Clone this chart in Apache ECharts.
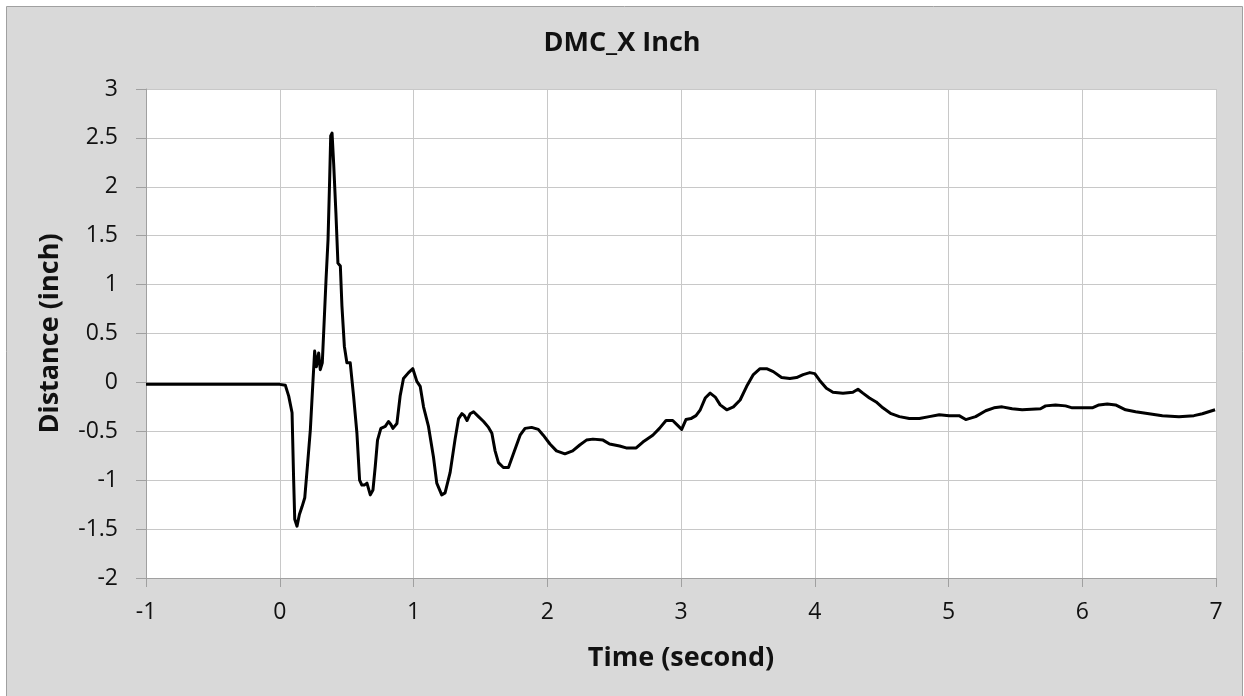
<!DOCTYPE html>
<html>
<head>
<meta charset="utf-8">
<script src="https://cdn.jsdelivr.net/npm/echarts@6/dist/echarts.min.js"></script>
<style>
html,body{margin:0;padding:0;background:#ffffff;}
#chart{width:1244px;height:696px;}
</style>
</head>
<body>
<div id="chart"></div>
<script>
const chartTitle = 'DMC_X Inch';
const xAxisTitle = 'Time (second)';
const yAxisTitle = 'Distance (inch)';

const timeValues = [
  -1, 0, 0.042, 0.067, 0.092, 0.104, 0.112, 0.129, 0.147, 0.167, 0.187, 0.209, 0.229, 0.249,
  0.261, 0.274, 0.291, 0.303, 0.318, 0.328, 0.346, 0.361, 0.373, 0.381, 0.391, 0.403, 0.420,
  0.435, 0.453, 0.465, 0.483, 0.502, 0.527, 0.552, 0.577, 0.597, 0.614, 0.632, 0.652, 0.677,
  0.697, 0.714, 0.731, 0.756, 0.789, 0.813, 0.831, 0.846, 0.876, 0.900, 0.925, 0.963, 0.995,
  1.025, 1.05, 1.075, 1.112, 1.149, 1.174, 1.211, 1.236, 1.274, 1.311, 1.337, 1.362, 1.380,
  1.40, 1.424, 1.449, 1.486, 1.524, 1.561, 1.586, 1.610, 1.635, 1.672, 1.71, 1.747, 1.797,
  1.834, 1.883, 1.933, 1.97, 2.02, 2.069, 2.132, 2.19, 2.243, 2.293, 2.342, 2.417, 2.466,
  2.541, 2.59, 2.665, 2.715, 2.789, 2.839, 2.888, 2.938, 2.975, 3.005, 3.037, 3.074, 3.112,
  3.144, 3.181, 3.218, 3.256, 3.293, 3.342, 3.392, 3.442, 3.491, 3.541, 3.591, 3.64, 3.69,
  3.752, 3.814, 3.864, 3.913, 3.963, 4.0, 4.037, 4.087, 4.136, 4.211, 4.285, 4.323, 4.36,
  4.409, 4.459, 4.509, 4.571, 4.633, 4.707, 4.782, 4.856, 4.931, 5.005, 5.079, 5.129, 5.203,
  5.278, 5.34, 5.401, 5.476, 5.551, 5.688, 5.726, 5.8, 5.875, 5.925, 6.0, 6.075, 6.125, 6.187,
  6.249, 6.324, 6.399, 6.499, 6.599, 6.723, 6.835, 6.898, 6.993
];
const distanceValues = [
  -0.02, -0.02, -0.03, -0.14, -0.31, -1.0, -1.40, -1.47, -1.35, -1.27, -1.18, -0.82, -0.48, 0.03,
  0.32, 0.16, 0.30, 0.13, 0.20, 0.50, 1.05, 1.46, 2.07, 2.52, 2.55, 2.24, 1.73,
  1.22, 1.19, 0.78, 0.37, 0.20, 0.20, -0.14, -0.52, -1.0, -1.05, -1.05, -1.03, -1.15,
  -1.10, -0.86, -0.59, -0.47, -0.45, -0.40, -0.43, -0.47, -0.42, -0.14, 0.04, 0.10, 0.14,
  0.01, -0.04, -0.25, -0.45, -0.76, -1.03, -1.15, -1.13, -0.92, -0.58, -0.37, -0.32, -0.34,
  -0.39, -0.32, -0.30, -0.35, -0.40, -0.46, -0.52, -0.70, -0.82, -0.87, -0.87, -0.73, -0.54,
  -0.47, -0.46, -0.48, -0.54, -0.63, -0.70, -0.73, -0.70, -0.64, -0.59, -0.58, -0.59, -0.63,
  -0.65, -0.67, -0.67, -0.61, -0.54, -0.47, -0.39, -0.39, -0.44, -0.48, -0.38, -0.37, -0.34,
  -0.28, -0.16, -0.11, -0.15, -0.23, -0.28, -0.25, -0.18, -0.04, 0.08, 0.14, 0.14, 0.11,
  0.05, 0.04, 0.05, 0.08, 0.10, 0.09, 0.02, -0.06, -0.10, -0.11, -0.10, -0.07, -0.11,
  -0.16, -0.20, -0.26, -0.32, -0.35, -0.37, -0.37, -0.35, -0.33, -0.34, -0.34, -0.38, -0.35,
  -0.29, -0.26, -0.25, -0.27, -0.28, -0.27, -0.24, -0.23, -0.24, -0.26, -0.26, -0.26, -0.23, -0.22,
  -0.23, -0.28, -0.30, -0.32, -0.34, -0.35, -0.34, -0.32, -0.28
];
const xMin = -1, xMax = 7, xStep = 1;
const yMin = -2, yMax = 3, yStep = 0.5;

const seriesData = timeValues.map((t, i) => [t, distanceValues[i]]);

const FONT = '"Open Sans", "Noto Sans", sans-serif';
const chart = echarts.init(document.getElementById('chart'), null, {renderer: 'canvas'});
chart.setOption({
  animation: false,
  backgroundColor: '#ffffff',
  graphic: {
    elements: [{
      type: 'rect',
      z: -100,
      silent: true,
      shape: {x: 6.5, y: 6.5, width: 1236, height: 700},
      style: {fill: '#d9d9d9', stroke: '#a0a0a0', lineWidth: 1}
    }]
  },
  title: {
    text: chartTitle,
    left: 'center',
    top: 25,
    textStyle: {fontFamily: FONT, fontSize: 27, fontWeight: 'bold', color: '#111'}
  },
  grid: {
    left: 146, right: 28, top: 89, bottom: 118,
    show: true, backgroundColor: '#ffffff', borderWidth: 0
  },
  xAxis: {
    type: 'value', min: xMin, max: xMax, interval: xStep,
    name: xAxisTitle, nameLocation: 'middle', nameGap: 67,
    nameTextStyle: {fontFamily: FONT, fontSize: 27, fontWeight: 'bold', color: '#111'},
    axisLine: {onZero: false, lineStyle: {color: '#a0a0a0', width: 1}},
    axisTick: {show: true, inside: false, length: 9, lineStyle: {color: '#a0a0a0'}},
    axisLabel: {fontFamily: FONT, fontSize: 23, color: '#111', margin: 23},
    splitLine: {show: true, lineStyle: {color: '#c8c8c8', width: 1}}
  },
  yAxis: {
    type: 'value', min: yMin, max: yMax, interval: yStep,
    name: yAxisTitle, nameLocation: 'middle', nameGap: 82, nameRotate: 90,
    nameTextStyle: {fontFamily: FONT, fontSize: 27, fontWeight: 'bold', color: '#111'},
    axisLine: {show: true, onZero: false, lineStyle: {color: '#a0a0a0', width: 1}},
    axisTick: {show: true, inside: false, length: 10, lineStyle: {color: '#a0a0a0'}},
    axisLabel: {fontFamily: FONT, fontSize: 23, color: '#111', margin: 28},
    splitLine: {show: true, lineStyle: {color: '#c8c8c8', width: 1}}
  },
  series: [{
    type: 'line',
    data: seriesData,
    showSymbol: false,
    symbol: 'none',
    smooth: false,
    lineStyle: {color: '#000000', width: 3, join: 'round'},
    z: 5
  }]
});
</script>
</body>
</html>
